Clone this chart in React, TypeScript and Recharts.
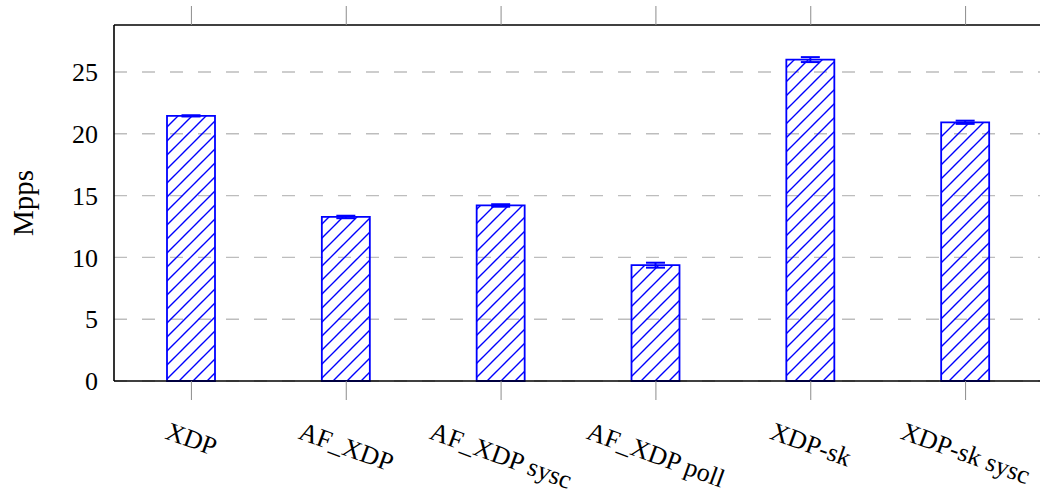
import React from 'react';
import { BarChart, Bar, XAxis, YAxis, CartesianGrid, ErrorBar } from 'recharts';

// Throughput per datapath variant (million packets per second)
const categories = ['XDP', 'AF_XDP', 'AF_XDP sysc', 'AF_XDP poll', 'XDP-sk', 'XDP-sk sysc'];
const mpps = [21.45, 13.27, 14.2, 9.37, 26.0, 20.93];
const mppsErr = [0.05, 0.1, 0.1, 0.2, 0.2, 0.13];
const yTicks = [0, 5, 10, 15, 20, 25];
const yMax = 28.8;

const data = categories.map((name, i) => ({ name, value: mpps[i], err: mppsErr[i] }));

const FONT = '"Liberation Serif", "Times New Roman", serif';
const FS = 26;
const BLUE = '#0000ff';
const TICK_GREY = '#8c8c8c';
const ANGLE = 20;

let measureCtx: CanvasRenderingContext2D | null = null;
function textWidth(s: string): number {
  if (!measureCtx) {
    const c = document.createElement('canvas');
    measureCtx = c.getContext('2d');
  }
  if (!measureCtx) return s.length * FS * 0.5;
  measureCtx.font = `${FS}px ${FONT}`;
  return measureCtx.measureText(s).width;
}

// Rotated category label whose rotated bounding box hangs from a fixed line below the axis
const RotatedTick = (props: any) => {
  const { x, y, payload } = props;
  const label = String(payload.value);
  const L = textWidth(label);
  const capH = FS * 0.66;
  const rad = (ANGLE * Math.PI) / 180;
  const boxH = L * Math.sin(rad) + capH * Math.cos(rad);
  const cy = y + 22 + boxH / 2;
  return (
    <g transform={`translate(${x},${cy}) rotate(${ANGLE})`}>
      <text x={0} y={0} dy={capH / 2} textAnchor="middle" fontFamily={FONT} fontSize={FS} fill="#000">
        {label}
      </text>
    </g>
  );
};

// Tick marks only, no label
const NoLabel = () => <g />;

const YLabel = (props: any) => {
  const { viewBox } = props;
  const cx = viewBox.x + 23;
  const cy = viewBox.y + viewBox.height / 2;
  return (
    <text
      x={cx}
      y={cy}
      transform={`rotate(-90, ${cx}, ${cy})`}
      textAnchor="middle"
      dominantBaseline="central"
      fontFamily={FONT}
      fontSize={29}
      fill="#000"
    >
      Mpps
    </text>
  );
};

export default function App() {
  return (
    <div style={{ position: 'absolute', left: 0, top: 0, width: 1040, height: 496, overflow: 'hidden', background: '#fff' }}>
      <BarChart width={1060} height={496} data={data} margin={{ top: 6, right: 17, bottom: 0, left: 0 }}>
        <defs>
          <pattern id="neLines" patternUnits="userSpaceOnUse" width={14} height={14}>
            <path d="M0,14 L14,0 M-3.5,3.5 L3.5,-3.5 M10.5,17.5 L17.5,10.5" stroke={BLUE} strokeWidth={1.4} />
          </pattern>
        </defs>
        <CartesianGrid
          xAxisId="bottom"
          yAxisId="left"
          vertical={false}
          horizontalValues={yTicks}
          stroke="#bdbdbd"
          strokeWidth={1.4}
          strokeDasharray="13 15"
        />
        <XAxis
          xAxisId="bottom"
          dataKey="name"
          interval={0}
          height={115}
          tickSize={19}
          tickMargin={0}
          tickLine={{ stroke: TICK_GREY, strokeWidth: 1 }}
          axisLine={{ stroke: '#000', strokeWidth: 1.6 }}
          tick={<RotatedTick />}
        />
        <XAxis
          xAxisId="top"
          dataKey="name"
          orientation="top"
          interval={0}
          height={19}
          tickSize={19}
          tickMargin={0}
          tick={<NoLabel />}
          tickLine={{ stroke: TICK_GREY, strokeWidth: 1 }}
          axisLine={{ stroke: '#000', strokeWidth: 1.6 }}
        />
        <YAxis
          yAxisId="left"
          type="number"
          domain={[0, yMax]}
          ticks={yTicks}
          width={114}
          tickSize={0}
          tickMargin={16}
          tickLine={false}
          axisLine={{ stroke: '#000', strokeWidth: 1.6 }}
          tick={{ fontFamily: FONT, fontSize: FS, fill: '#000' }}
          label={<YLabel />}
        />
        <YAxis
          yAxisId="leftIn"
          type="number"
          domain={[0, yMax]}
          ticks={yTicks}
          mirror
          width={19}
          tickSize={19}
          tickMargin={0}
          tick={<NoLabel />}
          axisLine={false}
          tickLine={{ stroke: TICK_GREY, strokeWidth: 1 }}
        />
        <YAxis
          yAxisId="rightIn"
          orientation="right"
          type="number"
          domain={[0, yMax]}
          ticks={yTicks}
          mirror
          width={19}
          tickSize={19}
          tickMargin={0}
          tick={<NoLabel />}
          axisLine={{ stroke: '#000', strokeWidth: 1.6 }}
          tickLine={{ stroke: TICK_GREY, strokeWidth: 1 }}
        />
        <Bar
          xAxisId="bottom"
          yAxisId="left"
          dataKey="value"
          barSize={48}
          fill="url(#neLines)"
          stroke={BLUE}
          strokeWidth={1.8}
          isAnimationActive={false}
        >
          <ErrorBar dataKey="err" width={9.5} stroke={BLUE} strokeWidth={2} direction="y" />
        </Bar>
      </BarChart>
    </div>
  );
}
